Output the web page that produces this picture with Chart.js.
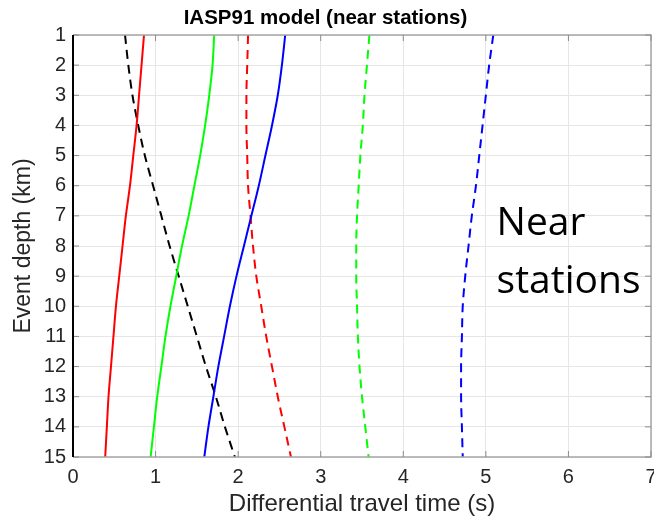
<!DOCTYPE html>
<html>
<head>
<meta charset="utf-8">
<script src="https://cdn.jsdelivr.net/npm/chart.js@4/dist/chart.umd.min.js"></script>
<style>
  html, body { margin: 0; padding: 0; background: #fff; }
  #wrap { width: 654px; height: 519px; }
</style>
</head>
<body>
<div id="wrap"><canvas id="chart" width="654" height="519"></canvas></div>
<script>
// event depth (km)
const depths=[1,2,3,4,5,6,7,8,9,10,11,12,13,14,15];
const xTicks=[0,1,2,3,4,5,6,7];
// differential travel times (s)
const redSolid=[0.86,0.83,0.80,0.77,0.73,0.69,0.64,0.60,0.56,0.52,0.49,0.46,0.43,0.41,0.39];
const greenSolid=[1.71,1.69,1.65,1.60,1.54,1.47,1.40,1.32,1.25,1.18,1.12,1.07,1.02,0.98,0.94];
const blueSolid=[2.57,2.53,2.48,2.41,2.33,2.25,2.16,2.07,1.98,1.90,1.83,1.76,1.70,1.64,1.59];
const blackDashed=[0.63,0.67,0.72,0.79,0.87,0.97,1.07,1.17,1.28,1.39,1.50,1.61,1.73,1.84,1.96];
const redDashed=[2.12,2.11,2.10,2.10,2.11,2.12,2.15,2.18,2.22,2.28,2.34,2.41,2.48,2.56,2.64];
const greenDashed=[3.59,3.56,3.53,3.51,3.48,3.46,3.44,3.43,3.43,3.44,3.45,3.47,3.50,3.54,3.58];
const blueDashed=[5.09,5.04,5.00,4.96,4.92,4.88,4.83,4.79,4.75,4.72,4.71,4.70,4.70,4.71,4.72];

const pts=arr=>arr.map((v,i)=>({x:v,y:depths[i]}));
function line(arr,color,dashed){
    return {
        data: pts(arr),
        indexAxis: 'y',
        borderColor: color,
        borderWidth: 2,
        borderDash: dashed ? [9,6] : [],
        showLine: true,
        pointRadius: 0,
        cubicInterpolationMode: 'monotone',
        fill: false
    };
}

// MATLAB style box with inward ticks + the "Near stations" note
const boxPlugin={
    id: 'box',
    afterDatasetsDraw(chart){
        const {ctx, chartArea:a, scales:{x,y}}=chart;
        ctx.save();
        ctx.strokeStyle='#a6a6a6';
        ctx.lineWidth=1.5;
        ctx.beginPath();
        ctx.moveTo(a.left,a.top); ctx.lineTo(a.right,a.top); ctx.lineTo(a.right,a.bottom); ctx.lineTo(a.left,a.bottom);
        ctx.stroke();
        ctx.lineWidth=1;
        ctx.strokeStyle='#8c8c8c';
        ctx.beginPath();
        xTicks.forEach(t=>{
            const px=x.getPixelForValue(t);
            ctx.moveTo(px,a.bottom); ctx.lineTo(px,a.bottom-6);
            ctx.moveTo(px,a.top); ctx.lineTo(px,a.top+6);
        });
        depths.forEach(t=>{
            const py=y.getPixelForValue(t);
            ctx.moveTo(a.left,py); ctx.lineTo(a.left+6,py);
            ctx.moveTo(a.right,py); ctx.lineTo(a.right-6,py);
        });
        ctx.stroke();
        ctx.strokeStyle='#000';
        ctx.lineWidth=2;
        ctx.beginPath();
        ctx.moveTo(a.left,a.top); ctx.lineTo(a.left,a.bottom);
        ctx.stroke();
        ctx.fillStyle='#000';
        ctx.font='39px "Open Sans"';
        ctx.textBaseline='alphabetic';
        ctx.textAlign='left';
        ctx.fillText('Near',x.getPixelForValue(5.13),235);
        ctx.fillText('stations',x.getPixelForValue(5.13),293);
        ctx.restore();
    }
};

const tickFont={family:'"Liberation Sans", Arial, sans-serif', size:20};
new Chart(document.getElementById('chart').getContext('2d'),{
    type: 'scatter',
    data: {
        datasets: [
            line(redSolid,'#ff0000',false),
            line(greenSolid,'#00ff00',false),
            line(blueSolid,'#0000ff',false),
            line(blackDashed,'#000000',true),
            line(redDashed,'#ff0000',true),
            line(greenDashed,'#00ff00',true),
            line(blueDashed,'#0000ff',true)
        ]
    },
    options: {
        responsive: false,
        animation: false,
        layout: {padding: {left:0, right:3, top:0, bottom:0}},
        plugins: {
            legend: {display: false},
            tooltip: {enabled: false},
            title: {
                display: true,
                text: 'IASP91 model (near stations)',
                color: '#000',
                font: {family:'"Liberation Sans", Arial, sans-serif', size:20.5, weight:'bold'},
                padding: {top:6, bottom:4.4}
            }
        },
        scales: {
            x: {
                type: 'linear',
                min: 0, max: 7,
                afterBuildTicks: s=>{ s.ticks=xTicks.map(v=>({value:v})); },
                afterFit: s=>{ s.height=62; s.paddingLeft=0; s.paddingRight=0; },
                ticks: {color:'#262626', font:tickFont, padding:8, maxRotation:0},
                grid: {color:'#e6e6e6', drawTicks:false},
                border: {display:false},
                title: {
                    display: true,
                    text: 'Differential travel time (s)',
                    color: '#262626',
                    font: {family:'"Liberation Sans", Arial, sans-serif', size:24},
                    padding: {top:0, bottom:0}
                }
            },
            y: {
                type: 'linear',
                reverse: true,
                min: 1, max: 15,
                afterBuildTicks: s=>{ s.ticks=depths.map(v=>({value:v})); },
                afterFit: s=>{ s.width=73; },
                ticks: {color:'#262626', font:tickFont, padding:7},
                grid: {color:'#e6e6e6', drawTicks:false},
                border: {display:false},
                title: {
                    display: true,
                    text: 'Event depth (km)',
                    color: '#262626',
                    font: {family:'"Liberation Sans", Arial, sans-serif', size:23},
                    padding: {top:10, bottom:0}
                }
            }
        }
    },
    plugins: [boxPlugin]
});
</script>
</body>
</html>
